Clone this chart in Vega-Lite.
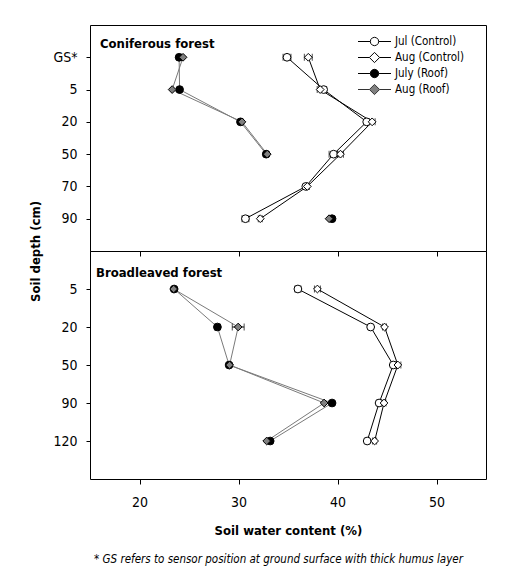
{
  "$schema": "https://vega.github.io/schema/vega-lite/v6.json",
  "padding": {"left": 28, "top": 24, "right": 10, "bottom": 10},
  "background": "white",
  "config": {
    "font": "DejaVu Sans Condensed, sans-serif",
    "view": {"stroke": "black", "strokeWidth": 1},
    "axis": {
      "domain": false, "grid": false, "tickColor": "black", "tickSize": 4, "tickWidth": 1,
      "labelFont": "DejaVu Sans Condensed, sans-serif", "labelFontSize": 14, "labelColor": "black",
      "titleFont": "DejaVu Sans Condensed, sans-serif", "titleFontSize": 13, "titleFontWeight": "bold", "titleColor": "black"
    },
    "title": {"font": "DejaVu Sans Condensed, sans-serif", "color": "black"}
  },
  "title": {
    "text": "* GS refers to sensor position at ground surface with thick humus layer",
    "orient": "bottom", "anchor": "middle", "frame": "bounds", "offset": 16, "dx": 21,
    "fontSize": 11.5, "fontStyle": "italic", "fontWeight": "normal", "color": "black"
  },
  "datasets": {
    "conifer": [
      {"depth": "GS*", "series": "Jul (Control)", "value": 34.9, "err": 0.4},
      {"depth": "5", "series": "Jul (Control)", "value": 38.6, "err": 0.3},
      {"depth": "20", "series": "Jul (Control)", "value": 42.95, "err": 0.2},
      {"depth": "50", "series": "Jul (Control)", "value": 39.6, "err": 0.45},
      {"depth": "70", "series": "Jul (Control)", "value": 36.8, "err": 0.2},
      {"depth": "90", "series": "Jul (Control)", "value": 30.7, "err": 0.35},
      {"depth": "GS*", "series": "Aug (Control)", "value": 37.05, "err": 0.4},
      {"depth": "5", "series": "Aug (Control)", "value": 38.25, "err": 0.3},
      {"depth": "20", "series": "Aug (Control)", "value": 43.5, "err": 0.3},
      {"depth": "50", "series": "Aug (Control)", "value": 40.3, "err": 0.3},
      {"depth": "70", "series": "Aug (Control)", "value": 36.95, "err": 0.2},
      {"depth": "90", "series": "Aug (Control)", "value": 32.2, "err": 0.2},
      {"depth": "GS*", "series": "July (Roof)", "value": 24.0, "err": 0.2},
      {"depth": "5", "series": "July (Roof)", "value": 24.05, "err": null},
      {"depth": "20", "series": "July (Roof)", "value": 30.2, "err": null},
      {"depth": "50", "series": "July (Roof)", "value": 32.8, "err": null},
      {"depth": "70", "series": "July (Roof)", "value": null, "err": null},
      {"depth": "90", "series": "July (Roof)", "value": 39.45, "err": null},
      {"depth": "GS*", "series": "Aug (Roof)", "value": 24.4, "err": null},
      {"depth": "5", "series": "Aug (Roof)", "value": 23.3, "err": null},
      {"depth": "20", "series": "Aug (Roof)", "value": 30.35, "err": null},
      {"depth": "50", "series": "Aug (Roof)", "value": 32.9, "err": null},
      {"depth": "70", "series": "Aug (Roof)", "value": null, "err": null},
      {"depth": "90", "series": "Aug (Roof)", "value": 39.15, "err": null}
    ],
    "broad": [
      {"depth": "5", "series": "Jul (Control)", "value": 36.0, "err": 0.3},
      {"depth": "20", "series": "Jul (Control)", "value": 43.35, "err": 0.2},
      {"depth": "50", "series": "Jul (Control)", "value": 45.63, "err": 0.2},
      {"depth": "90", "series": "Jul (Control)", "value": 44.2, "err": 0.2},
      {"depth": "120", "series": "Jul (Control)", "value": 43.0, "err": 0.2},
      {"depth": "5", "series": "Aug (Control)", "value": 37.97, "err": 0.3},
      {"depth": "20", "series": "Aug (Control)", "value": 44.75, "err": 0.2},
      {"depth": "50", "series": "Aug (Control)", "value": 46.1, "err": 0.3},
      {"depth": "90", "series": "Aug (Control)", "value": 44.7, "err": 0.2},
      {"depth": "120", "series": "Aug (Control)", "value": 43.75, "err": 0.2},
      {"depth": "5", "series": "July (Roof)", "value": 23.5, "err": null},
      {"depth": "20", "series": "July (Roof)", "value": 27.87, "err": 0.25},
      {"depth": "50", "series": "July (Roof)", "value": 29.05, "err": null},
      {"depth": "90", "series": "July (Roof)", "value": 39.45, "err": null},
      {"depth": "120", "series": "July (Roof)", "value": 33.2, "err": null},
      {"depth": "5", "series": "Aug (Roof)", "value": 23.45, "err": null},
      {"depth": "20", "series": "Aug (Roof)", "value": 29.97, "err": 0.6},
      {"depth": "50", "series": "Aug (Roof)", "value": 29.1, "err": null},
      {"depth": "90", "series": "Aug (Roof)", "value": 38.65, "err": null},
      {"depth": "120", "series": "Aug (Roof)", "value": 32.85, "err": null}
    ]
  },
  "spacing": 0,
  "bounds": "flush",
  "vconcat": [
    {
      "width": 396,
      "height": 226,
      "data": {"name": "conifer"},
      "title": {"text": "Coniferous forest", "orient": "top", "anchor": "start", "frame": "group", "offset": -36, "dx": 10, "baseline": "alphabetic", "fontSize": 13, "fontWeight": "bold"},
      "encoding": {
        "x": {
          "field": "value", "type": "quantitative",
          "scale": {"domain": [15, 55], "nice": false, "zero": false},
          "axis": {"values": [20, 30, 40, 50], "labels": false, "title": null, "tickSize": 5}
        },
        "y": {
          "field": "depth", "type": "ordinal",
          "sort": ["GS*", "5", "20", "50", "70", "90"],
          "scale": {"type": "point", "padding": 1},
          "axis": {"title": "Soil depth (cm)", "labelPadding": 9, "titleX": -55, "titleY": 226, "titleAngle": -90, "titleAlign": "center", "titleBaseline": "middle"}
        }
      },
      "layer": [
        {
          "mark": {"type": "line", "strokeWidth": 1, "invalid": "break-paths-filter-domains"},
          "encoding": {
            "detail": {"field": "series", "type": "nominal"},
            "stroke": {"condition": {"test": "indexof(datum.series, 'Roof') >= 0", "value": "#7a7a7a"}, "value": "black"}
          }
        },
        {
          "transform": [{"filter": "datum.err != null && datum.value != null"}],
          "mark": {"type": "errorbar", "ticks": {"size": 7, "color": "black"}, "rule": {"color": "black", "strokeWidth": 1}},
          "encoding": {
            "x": {"field": "value", "type": "quantitative"},
            "xError": {"field": "err"}
          }
        },
        {
          "transform": [{"filter": "datum.series === 'Jul (Control)' || datum.series === 'July (Roof)'"}],
          "mark": {"type": "point", "shape": "circle", "filled": true, "size": 60, "stroke": "black", "strokeWidth": 1, "opacity": 1},
          "encoding": {
            "fill": {"condition": {"test": "datum.series === 'July (Roof)'", "value": "black"}, "value": "white"}
          }
        },
        {
          "transform": [{"filter": "datum.series === 'Aug (Control)' || datum.series === 'Aug (Roof)'"}],
          "mark": {"type": "point", "shape": "diamond", "filled": true, "size": 60, "stroke": "black", "strokeWidth": 1, "opacity": 1},
          "encoding": {
            "fill": {"condition": {"test": "datum.series === 'Aug (Roof)'", "value": "#808080"}, "value": "white"}
          }
        },
        {
          "transform": [{"filter": "datum.depth === 'GS*'"}],
          "mark": {"type": "point", "filled": true, "strokeWidth": 1, "opacity": 0, "size": 144},
          "encoding": {
            "shape": {"field": "series", "type": "nominal",
              "scale": {"domain": ["Jul (Control)", "Aug (Control)", "July (Roof)", "Aug (Roof)"],
                "range": [
                  "M-2.75,0L-0.7,0M0.7,0L2.75,0M0.7,0L0.606,0.35L0.35,0.606L0,0.7L-0.35,0.606L-0.606,0.35L-0.7,0L-0.606,-0.35L-0.35,-0.606L0,-0.7L0.35,-0.606L0.606,-0.35Z",
                  "M-2.75,0L-0.85,0M0.85,0L2.75,0M0,-0.85L0.85,0L0,0.85L-0.85,0Z",
                  "M-2.75,0L-0.7,0M0.7,0L2.75,0M0.7,0L0.606,0.35L0.35,0.606L0,0.7L-0.35,0.606L-0.606,0.35L-0.7,0L-0.606,-0.35L-0.35,-0.606L0,-0.7L0.35,-0.606L0.606,-0.35Z",
                  "M-2.75,0L-0.85,0M0.85,0L2.75,0M0,-0.85L0.85,0L0,0.85L-0.85,0Z"
                ]},
              "legend": {
                "title": null, "orient": "none", "legendX": 278, "legendY": 10, "padding": 0,
                "symbolSize": 144, "symbolStrokeWidth": 1, "symbolOpacity": 1,
                "labelFont": "DejaVu Sans Condensed, sans-serif", "labelFontSize": 11.5, "labelColor": "black",
                "labelOffset": 14, "rowPadding": 2
              }},
            "fill": {"field": "series", "type": "nominal",
              "scale": {"domain": ["Jul (Control)", "Aug (Control)", "July (Roof)", "Aug (Roof)"], "range": ["white", "white", "black", "#808080"]},
              "legend": {
                "title": null, "orient": "none", "legendX": 278, "legendY": 10, "padding": 0,
                "symbolSize": 144, "symbolStrokeWidth": 1, "symbolOpacity": 1,
                "labelFont": "DejaVu Sans Condensed, sans-serif", "labelFontSize": 11.5, "labelColor": "black",
                "labelOffset": 14, "rowPadding": 2
              }},
            "stroke": {"field": "series", "type": "nominal",
              "scale": {"domain": ["Jul (Control)", "Aug (Control)", "July (Roof)", "Aug (Roof)"], "range": ["black", "black", "black", "#333333"]},
              "legend": {
                "title": null, "orient": "none", "legendX": 278, "legendY": 10, "padding": 0,
                "symbolSize": 144, "symbolStrokeWidth": 1, "symbolOpacity": 1,
                "labelFont": "DejaVu Sans Condensed, sans-serif", "labelFontSize": 11.5, "labelColor": "black",
                "labelOffset": 14, "rowPadding": 2
              }}
          }
        }
      ]
    },
    {
      "width": 396,
      "height": 228,
      "data": {"name": "broad"},
      "title": {"text": "Broadleaved forest", "orient": "top", "anchor": "start", "frame": "group", "offset": -39, "dx": 6, "baseline": "alphabetic", "fontSize": 13, "fontWeight": "bold"},
      "encoding": {
        "x": {
          "field": "value", "type": "quantitative",
          "scale": {"domain": [15, 55], "nice": false, "zero": false},
          "axis": {"values": [20, 30, 40, 50], "title": "Soil water content (%)", "tickSize": 5, "labelPadding": 11, "titlePadding": 15}
        },
        "y": {
          "field": "depth", "type": "ordinal",
          "sort": ["5", "20", "50", "90", "120"],
          "scale": {"type": "point", "padding": 1},
          "axis": {"title": null, "labelPadding": 9}
        }
      },
      "layer": [
        {
          "mark": {"type": "line", "strokeWidth": 1, "invalid": "break-paths-filter-domains"},
          "encoding": {
            "detail": {"field": "series", "type": "nominal"},
            "stroke": {"condition": {"test": "indexof(datum.series, 'Roof') >= 0", "value": "#7a7a7a"}, "value": "black"}
          }
        },
        {
          "transform": [{"filter": "datum.err != null && datum.value != null"}],
          "mark": {"type": "errorbar", "ticks": {"size": 7, "color": "black"}, "rule": {"color": "black", "strokeWidth": 1}},
          "encoding": {
            "x": {"field": "value", "type": "quantitative"},
            "xError": {"field": "err"}
          }
        },
        {
          "transform": [{"filter": "datum.series === 'Jul (Control)' || datum.series === 'July (Roof)'"}],
          "mark": {"type": "point", "shape": "circle", "filled": true, "size": 60, "stroke": "black", "strokeWidth": 1, "opacity": 1},
          "encoding": {
            "fill": {"condition": {"test": "datum.series === 'July (Roof)'", "value": "black"}, "value": "white"}
          }
        },
        {
          "transform": [{"filter": "datum.series === 'Aug (Control)' || datum.series === 'Aug (Roof)'"}],
          "mark": {"type": "point", "shape": "diamond", "filled": true, "size": 60, "stroke": "black", "strokeWidth": 1, "opacity": 1},
          "encoding": {
            "fill": {"condition": {"test": "datum.series === 'Aug (Roof)'", "value": "#808080"}, "value": "white"}
          }
        }
      ]
    }
  ]
}
